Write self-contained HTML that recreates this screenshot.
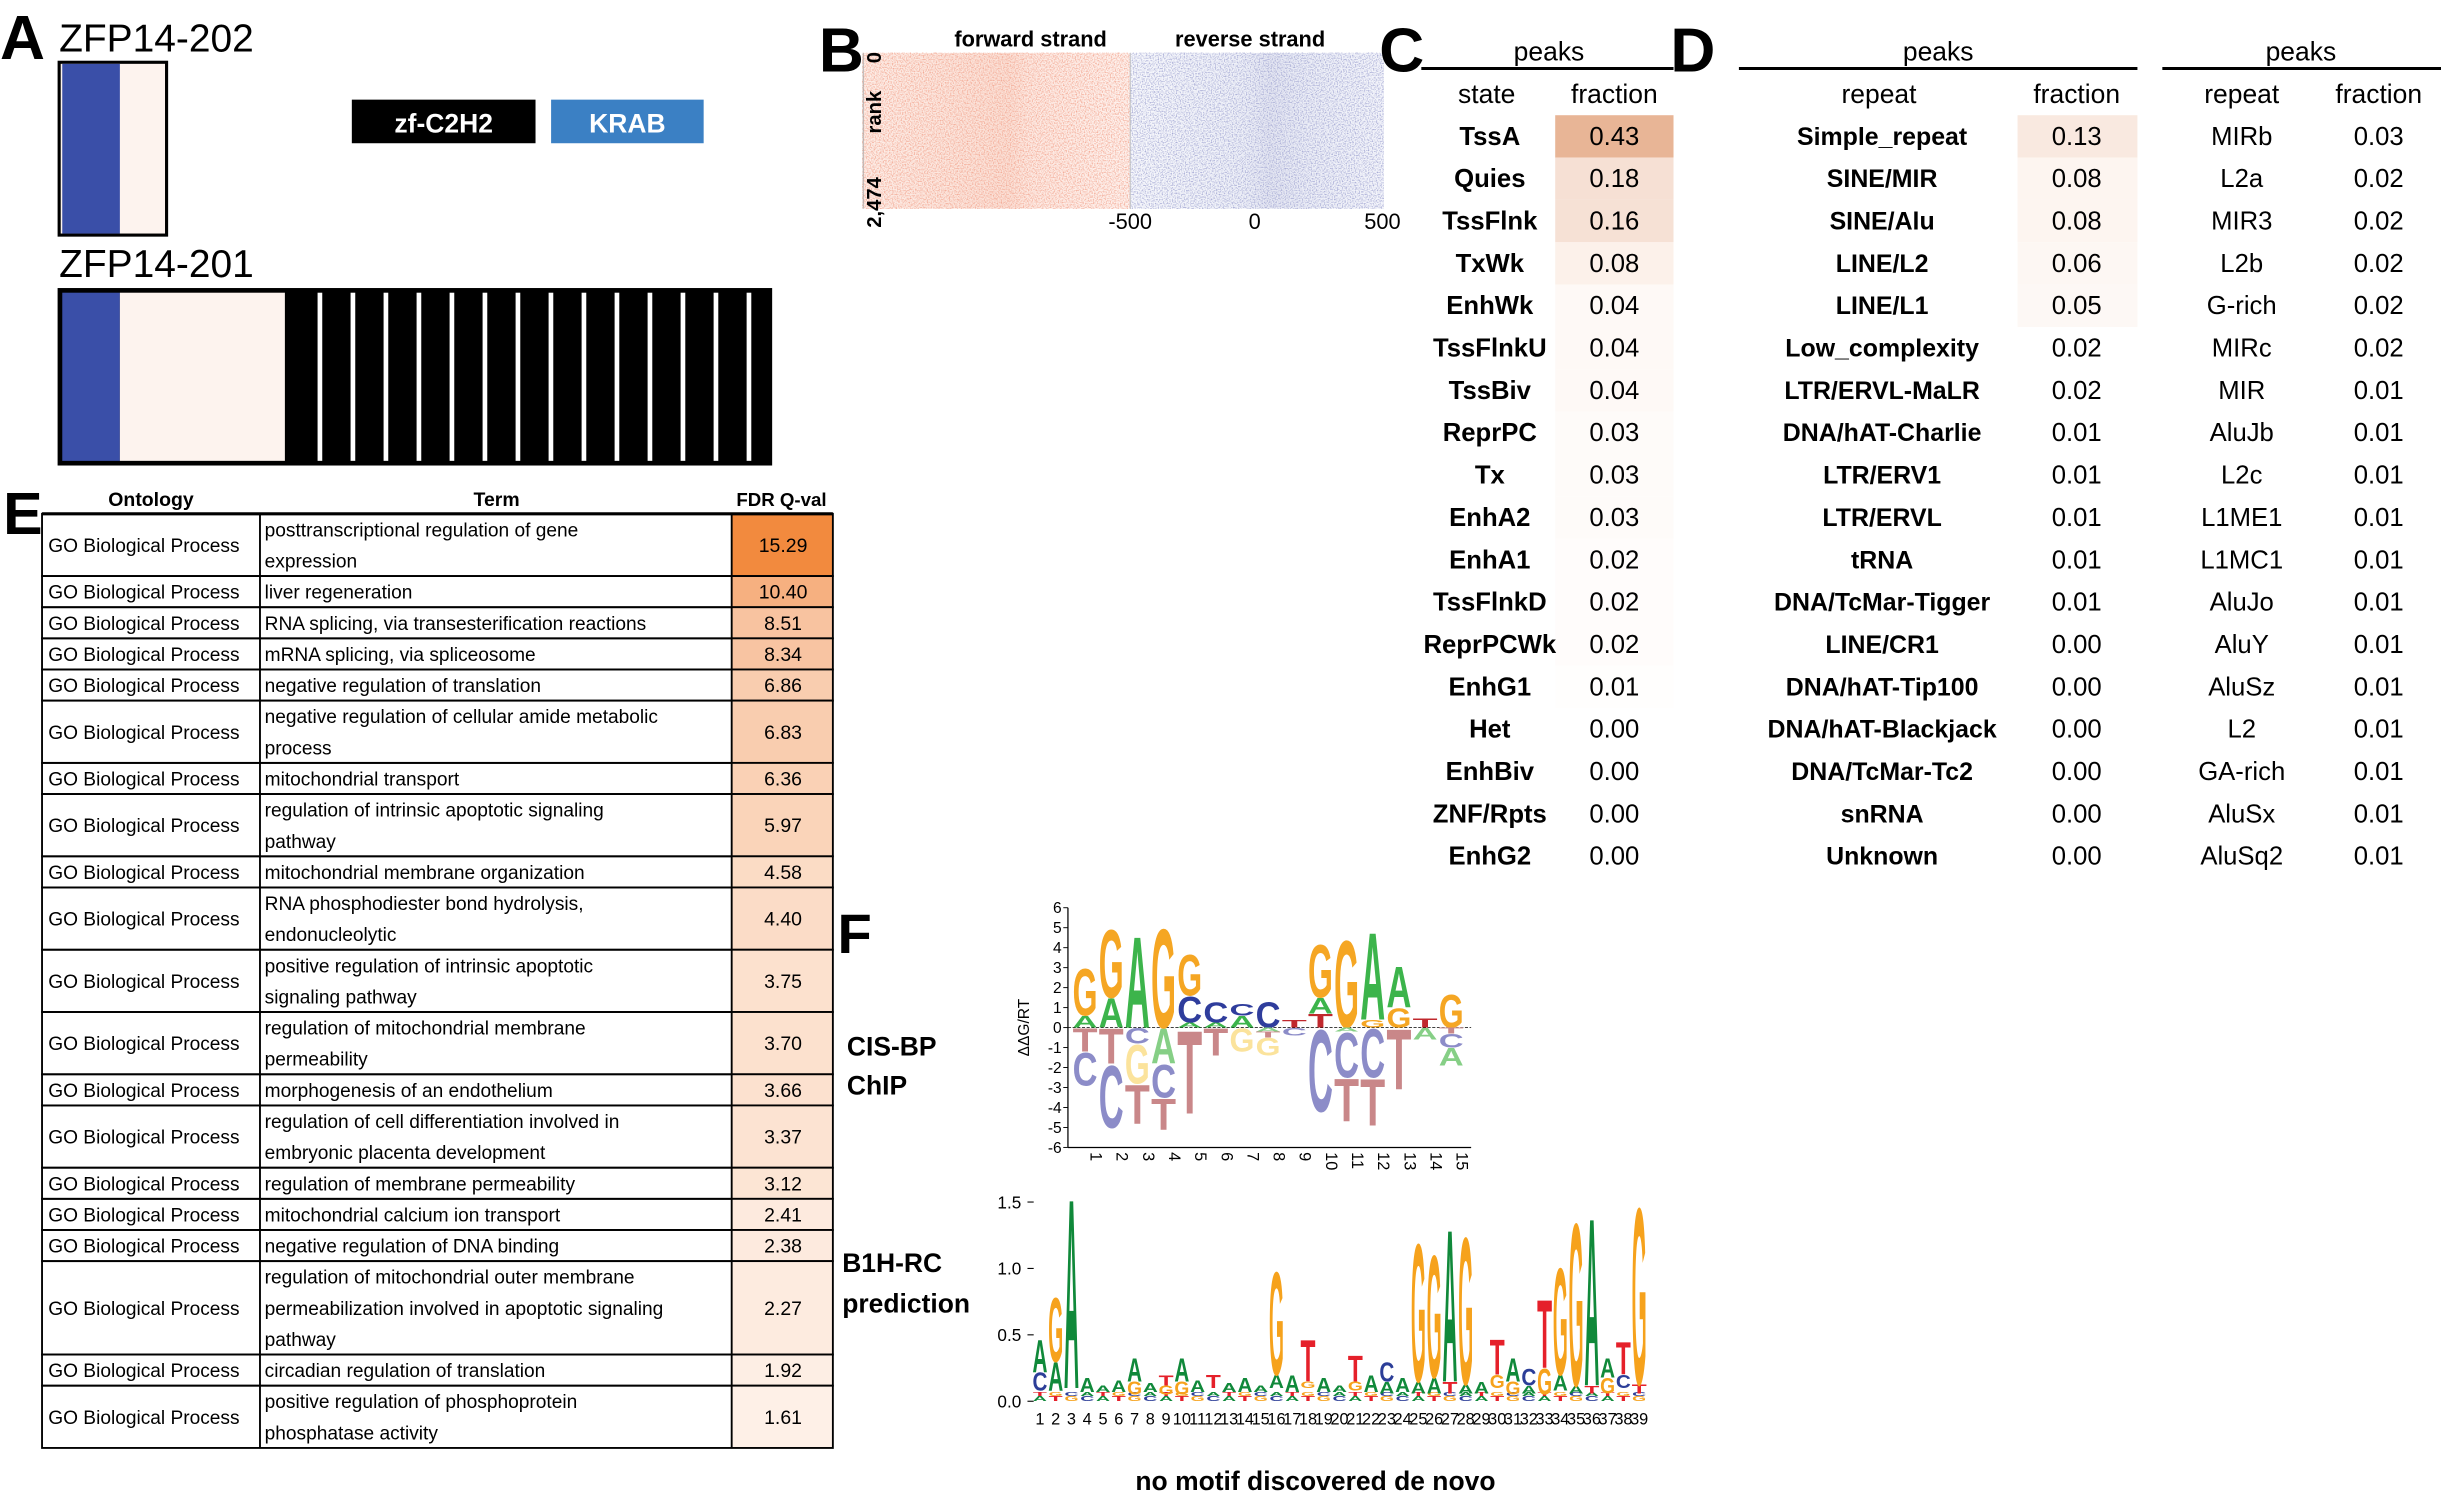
<!DOCTYPE html>
<html><head><meta charset="utf-8"><style>
html,body{margin:0;padding:0;background:#fff}
svg{display:block}
text{font-family:"Liberation Sans",sans-serif}
</style></head><body>
<svg id="s" xmlns="http://www.w3.org/2000/svg" width="2441" height="1504" viewBox="0 0 1568 966" preserveAspectRatio="none">
<defs>
<filter id="nR" x="0" y="0" width="100%" height="100%"><feTurbulence type="fractalNoise" baseFrequency="1.2" numOctaves="1" seed="3" result="t"/><feColorMatrix in="t" type="matrix" values="0 0 0 0 0.88  0 0 0 0 0.35  0 0 0 0 0.25  0 0 0 2.4 -1.0"/></filter>
<filter id="nB" x="0" y="0" width="100%" height="100%"><feTurbulence type="fractalNoise" baseFrequency="1.2" numOctaves="1" seed="7" result="t"/><feColorMatrix in="t" type="matrix" values="0 0 0 0 0.3  0 0 0 0 0.32  0 0 0 0 0.6  0 0 0 2.4 -1.05"/></filter>
<linearGradient id="gR" x1="0" x2="1" y1="0" y2="0"><stop offset="0" stop-color="#fdeee8"/><stop offset="0.55" stop-color="#fbe0d6"/><stop offset="0.62" stop-color="#fde9e2"/><stop offset="1" stop-color="#fef2ee"/></linearGradient>
<linearGradient id="gB" x1="0" x2="1" y1="0" y2="0"><stop offset="0" stop-color="#f7f8fc"/><stop offset="0.45" stop-color="#eef0f8"/><stop offset="0.55" stop-color="#e4e6f2"/><stop offset="0.7" stop-color="#eceef7"/><stop offset="1" stop-color="#f4f5fb"/></linearGradient>
</defs>
<!-- A -->
<text x="0" y="38" font-size="40" font-weight="bold">A</text>
<text x="38" y="33" font-size="25">ZFP14-202</text>
<rect x="38" y="40" width="69" height="111" fill="#fdf3ee" stroke="#000" stroke-width="2"/>
<rect x="40" y="41" width="37" height="109" fill="#3a4fa8"/>
<rect x="226" y="64" width="118" height="28" fill="#000"/>
<text x="285" y="85" font-size="17" font-weight="bold" fill="#fff" text-anchor="middle">zf-C2H2</text>
<rect x="354" y="64" width="98" height="28" fill="#3b80c4"/>
<text x="403" y="85" font-size="17" font-weight="bold" fill="#fff" text-anchor="middle">KRAB</text>
<text x="38" y="178" font-size="25">ZFP14-201</text>
<rect x="38" y="186" width="457" height="112" fill="#000" stroke="#000" stroke-width="2"/>
<rect x="40" y="188" width="37" height="108" fill="#3a4fa8"/>
<rect x="77" y="188" width="106" height="108" fill="#fdf3ee"/>
<g id="stripes" fill="#fff"></g>
<!-- B -->
<text x="526" y="46" font-size="40" font-weight="bold">B</text>
<text x="662" y="30" font-size="14" font-weight="bold" text-anchor="middle">forward strand</text>
<text x="803" y="30" font-size="14" font-weight="bold" text-anchor="middle">reverse strand</text>
<rect x="554" y="34" width="172" height="100" fill="url(#gR)"/>
<rect x="554" y="34" width="172" height="100" filter="url(#nR)"/>
<rect x="726" y="34" width="163" height="100" fill="url(#gB)"/>
<rect x="726" y="34" width="163" height="100" filter="url(#nB)"/>
<line x1="554.5" y1="34" x2="554.5" y2="134" stroke="#aaa" stroke-width="0.6"/>
<line x1="726" y1="34" x2="726" y2="134" stroke="#bbb" stroke-width="0.6"/>
<text transform="translate(566,37) rotate(-90)" font-size="13" font-weight="bold" text-anchor="middle">0</text>
<text transform="translate(566,72) rotate(-90)" font-size="13" font-weight="bold" text-anchor="middle">rank</text>
<text transform="translate(566,130) rotate(-90)" font-size="13" font-weight="bold" text-anchor="middle">2,474</text>
<text x="726" y="147" font-size="14" text-anchor="middle">-500</text>
<text x="806" y="147" font-size="14" text-anchor="middle">0</text>
<text x="888" y="147" font-size="14" text-anchor="middle">500</text>
<!-- C -->
<text x="886" y="46" font-size="40" font-weight="bold">C</text>
<text x="1073" y="46" font-size="40" font-weight="bold">D</text>
<g id="tables"></g>
<!-- E -->
<text x="2" y="343" font-size="38" font-weight="bold">E</text>
<g id="etable"></g>
<!-- F -->
<text x="538" y="612" font-size="36" font-weight="bold">F</text>
<text x="544" y="678" font-size="17" font-weight="bold">CIS-BP</text>
<text x="544" y="703" font-size="17" font-weight="bold">ChIP</text>
<text x="541" y="817" font-size="17" font-weight="bold">B1H-RC</text>
<text x="541" y="843" font-size="17" font-weight="bold">prediction</text>
<text x="845" y="957" font-size="17" font-weight="bold" text-anchor="middle">no motif discovered de novo</text>
<g id="logo1"></g>
<g id="logo2"></g>
</svg>
<script>
var NS="http://www.w3.org/2000/svg";
function el(parent,tag,attrs,txt){var e=document.createElementNS(NS,tag);for(var k in attrs)e.setAttribute(k,attrs[k]);if(txt!=null)e.textContent=txt;parent.appendChild(e);return e;}
var st=document.getElementById('stripes');
for(var i=0;i<14;i++){el(st,'rect',{x:204+i*21.2,y:188,width:3,height:108});}
var T=document.getElementById('tables');
function hdr(cx,x1,x2){el(T,'text',{x:cx,y:39,'font-size':17,'text-anchor':'middle'},'peaks');el(T,'line',{x1:x1,x2:x2,y1:44,y2:44,stroke:'#000','stroke-width':2});}
hdr(995,913,1075);hdr(1245,1117,1373);hdr(1478,1389,1568);
function colh(cx,t){el(T,'text',{x:cx,y:66,'font-size':17,'text-anchor':'middle'},t);}
colh(955,'state');colh(1037,'fraction');colh(1207,'repeat');colh(1334,'fraction');colh(1440,'repeat');colh(1528,'fraction');
var C=[['TssA','0.43','#e8b596'],['Quies','0.18','#f6e0d4'],['TssFlnk','0.16','#f6e1d5'],['TxWk','0.08','#fcf1ea'],['EnhWk','0.04','#fef9f6'],['TssFlnkU','0.04','#fef9f6'],['TssBiv','0.04','#fef9f6'],['ReprPC','0.03','#fefbf9'],['Tx','0.03','#fefbf9'],['EnhA2','0.03','#fefbf9'],['EnhA1','0.02','#fffcfb'],['TssFlnkD','0.02','#fffcfb'],['ReprPCWk','0.02','#fffcfb'],['EnhG1','0.01','#fffefd'],['Het','0.00','#fff'],['EnhBiv','0.00','#fff'],['ZNF/Rpts','0.00','#fff'],['EnhG2','0.00','#fff']];
var D=[['Simple_repeat','0.13','#f9e9e0'],['SINE/MIR','0.08','#fdf5f0'],['SINE/Alu','0.08','#fdf5f0'],['LINE/L2','0.06','#fdf7f3'],['LINE/L1','0.05','#fdf8f5'],['Low_complexity','0.02','#fff'],['LTR/ERVL-MaLR','0.02','#fff'],['DNA/hAT-Charlie','0.01','#fff'],['LTR/ERV1','0.01','#fff'],['LTR/ERVL','0.01','#fff'],['tRNA','0.01','#fff'],['DNA/TcMar-Tigger','0.01','#fff'],['LINE/CR1','0.00','#fff'],['DNA/hAT-Tip100','0.00','#fff'],['DNA/hAT-Blackjack','0.00','#fff'],['DNA/TcMar-Tc2','0.00','#fff'],['snRNA','0.00','#fff'],['Unknown','0.00','#fff']];
var D2=[['MIRb','0.03'],['L2a','0.02'],['MIR3','0.02'],['L2b','0.02'],['G-rich','0.02'],['MIRc','0.02'],['MIR','0.01'],['AluJb','0.01'],['L2c','0.01'],['L1ME1','0.01'],['L1MC1','0.01'],['AluJo','0.01'],['AluY','0.01'],['AluSz','0.01'],['L2','0.01'],['GA-rich','0.01'],['AluSx','0.01'],['AluSq2','0.01']];
for(var i=0;i<18;i++){var y=74+i*27.2, by=y+19;
 el(T,'rect',{x:999,y:y,width:76,height:27.2,fill:C[i][2]});
 el(T,'text',{x:957,y:by,'font-size':16.5,'font-weight':'bold','text-anchor':'middle'},C[i][0]);
 el(T,'text',{x:1037,y:by,'font-size':16.5,'text-anchor':'middle'},C[i][1]);
 el(T,'rect',{x:1296,y:y,width:77,height:27.2,fill:D[i][2]});
 el(T,'text',{x:1209,y:by,'font-size':16,'font-weight':'bold','text-anchor':'middle'},D[i][0]);
 el(T,'text',{x:1334,y:by,'font-size':16.5,'text-anchor':'middle'},D[i][1]);
 el(T,'text',{x:1440,y:by,'font-size':16.5,'text-anchor':'middle'},D2[i][0]);
 el(T,'text',{x:1528,y:by,'font-size':16.5,'text-anchor':'middle'},D2[i][1]);
}
var E=document.getElementById('etable');
el(E,'text',{x:97,y:325,'font-size':12.5,'font-weight':'bold','text-anchor':'middle'},'Ontology');
el(E,'text',{x:319,y:325,'font-size':12.5,'font-weight':'bold','text-anchor':'middle'},'Term');
el(E,'text',{x:502,y:325,'font-size':12,'font-weight':'bold','text-anchor':'middle'},'FDR Q-val');
var R=[[['posttranscriptional regulation of gene','expression'],'15.29','#f28a3e'],[['liver regeneration'],'10.40','#f6b080'],[['RNA splicing, via transesterification reactions'],'8.51','#f8c3a0'],[['mRNA splicing, via spliceosome'],'8.34','#f8c4a2'],[['negative regulation of translation'],'6.86','#f9cdaf'],[['negative regulation of cellular amide metabolic','process'],'6.83','#f9cdaf'],[['mitochondrial transport'],'6.36','#fad1b5'],[['regulation of intrinsic apoptotic signaling','pathway'],'5.97','#fad4b9'],[['mitochondrial membrane organization'],'4.58','#fbdcc5'],[['RNA phosphodiester bond hydrolysis,','endonucleolytic'],'4.40','#fbdcc7'],[['positive regulation of intrinsic apoptotic','signaling pathway'],'3.75','#fce1ce'],[['regulation of mitochondrial membrane','permeability'],'3.70','#fce1ce'],[['morphogenesis of an endothelium'],'3.66','#fce1cf'],[['regulation of cell differentiation involved in','embryonic placenta development'],'3.37','#fce3d2'],[['regulation of membrane permeability'],'3.12','#fce5d4'],[['mitochondrial calcium ion transport'],'2.41','#fdeade'],[['negative regulation of DNA binding'],'2.38','#fdeade'],[['regulation of mitochondrial outer membrane','permeabilization involved in apoptotic signaling','pathway'],'2.27','#fdebdf'],[['circadian regulation of translation'],'1.92','#fdeee4'],[['positive regulation of phosphoprotein','phosphatase activity'],'1.61','#fef0e7']];
var y=330;
for(var i=0;i<R.length;i++){var n=R[i][0].length,h=n*20,my=y+h/2+4.5;
 el(E,'rect',{x:470,y:y,width:65,height:h,fill:R[i][2]});
 el(E,'rect',{x:27,y:y,width:508,height:h,fill:'none',stroke:'#000','stroke-width':1.2});
 el(E,'line',{x1:167,x2:167,y1:y,y2:y+h,stroke:'#000','stroke-width':1.2});
 el(E,'line',{x1:470,x2:470,y1:y,y2:y+h,stroke:'#000','stroke-width':1.2});
 el(E,'text',{x:31,y:my,'font-size':12.3},'GO Biological Process');
 for(var j=0;j<n;j++)el(E,'text',{x:170,y:y+14.5+j*20,'font-size':12.3},R[i][0][j]);
 el(E,'text',{x:503,y:my,'font-size':12.5,'text-anchor':'middle'},R[i][1]);
 y+=h;}
el(E,'line',{x1:27,x2:535,y1:330,y2:330,stroke:'#000','stroke-width':2});
function letter(g,ch,cx,yTop,yBot,w,col,op){var h=yBot-yTop;if(h<0.6)return;
 var gw=(ch=='T')?61:72;
 var t=el(g,'text',{transform:'translate('+(cx-w/2)+','+yBot+') scale('+(w/gw)+','+(h/72)+')','font-size':100,'font-weight':'bold',fill:col,'fill-opacity':op||1},ch);
 t.setAttribute('textLength',gw);t.setAttribute('lengthAdjust','spacingAndGlyphs');}
var L1=document.getElementById('logo1');
var c1={A:'#3cb44b',C:'#2f3d9c',G:'#f5a623',T:'#c0282d'},c1n={A:'#86cf86',C:'#8c8cc8',G:'#fbe39c',T:'#c98789'};
var z=660,u=12.83;
el(L1,'line',{x1:686,x2:686,y1:583,y2:737,stroke:'#000','stroke-width':0.8});
el(L1,'line',{x1:686,x2:945,y1:737,y2:737,stroke:'#000','stroke-width':0.8});
el(L1,'line',{x1:686,x2:945,y1:z,y2:z,stroke:'#000','stroke-width':0.5,'stroke-dasharray':'2,1'});
for(var v=-6;v<=6;v++){var yy=z-v*u;el(L1,'line',{x1:683,x2:686,y1:yy,y2:yy,stroke:'#000','stroke-width':0.6});el(L1,'text',{x:682,y:yy+3.5,'font-size':10,'text-anchor':'end'},v);}
el(L1,'text',{transform:'translate(661,660) rotate(-90)','font-size':10,'text-anchor':'middle'},'ΔΔG/RT');
var P1=[[['A',0,.6],['G',.6,3]],[['A',0,1.5],['G',1.5,5]],[['A',0,4.7]],[['G',0,5.1]],[['A',0,.25],['C',.25,1.6],['G',1.6,3.7]],[['A',0,.25],['C',.25,1.3]],[['A',0,.6],['C',.6,1.2]],[['C',0,1.3]],[['T',0,.4]],[['T',0,.7],['A',.7,1.5],['G',1.5,4.2]],[['G',0,4.5]],[['G',0,.4],['A',.4,4.9]],[['G',0,1],['A',1,3.1]],[['T',0,.45]],[['G',0,1.7]]];
var N1=[[['T',0,1.2],['C',1.2,2.9]],[['T',0,1.8],['C',1.8,5]],[['C',0,.8],['G',.8,2.8],['T',2.8,4.8]],[['A',0,1.8],['C',1.8,3.5],['T',3.5,5.1]],[['T',0,4.3]],[['T',0,1.4]],[['G',0,1.2]],[['A',0,.2],['T',.2,.5],['G',.5,1.4]],[['C',0,.4]],[['C',0,4.2]],[['A',0,.2],['C',.2,2.5],['T',2.5,4.7]],[['C',0,2.5],['T',2.5,4.9]],[['T',0,3.1]],[['A',0,.6]],[['T',0,.3],['C',.3,1],['A',1,1.9]]];
for(var i=0;i<15;i++){var cx=697+i*16.8;
 P1[i].forEach(function(p){letter(L1,p[0],cx,z-p[2]*u,z-p[1]*u,16,c1[p[0]]);});
 N1[i].forEach(function(p){letter(L1,p[0],cx,z+p[1]*u,z+p[2]*u,16,c1n[p[0]]);});
 el(L1,'text',{transform:'translate('+(cx+3.5)+',740) rotate(90)','font-size':10.5},i+1);}
var L2=document.getElementById('logo2');
var c2={A:'#10893a',C:'#2c3e98',G:'#f6a21c',T:'#e5202a'};
var z2=900,u2=85.3;
[[0,'0.0'],[0.5,'0.5'],[1,'1.0'],[1.5,'1.5']].forEach(function(t){var yy=z2-t[0]*u2;el(L2,'text',{x:656,y:yy+4,'font-size':11,'text-anchor':'end'},t[1]);el(L2,'line',{x1:660,x2:664,y1:yy,y2:yy,stroke:'#000','stroke-width':0.7});});
var big={1:[['C',.08,.22],['A',.22,.47]],2:[['A',.08,.3],['G',.3,.8]],3:[['A',.1,1.57]],7:[['G',.05,.15],['A',.15,.33]],9:[['G',.05,.12],['T',.12,.2]],10:[['G',.05,.15],['A',.15,.33]],12:[['T',.1,.2]],16:[['A',.1,.2],['G',.2,1.0]],18:[['G',.1,.15],['T',.15,.47]],21:[['G',.08,.15],['T',.15,.35]],23:[['A',.06,.15],['C',.15,.3]],25:[['A',.06,.15],['G',.15,1.22]],26:[['A',.06,.18],['G',.18,1.13]],27:[['T',.06,.15],['A',.15,1.33]],28:[['A',.06,.13],['G',.13,1.27]],29:[['A',.06,.15]],30:[['G',.1,.2],['T',.2,.47]],31:[['G',.05,.15],['A',.15,.33]],32:[['A',.06,.12],['C',.12,.25]],33:[['G',.05,.25],['T',.25,.78]],34:[['A',.08,.2],['G',.2,1.03]],35:[['A',.06,.12],['G',.12,1.38]],36:[['T',.06,.12],['A',.12,1.42]],37:[['G',.06,.18],['A',.18,.33]],38:[['C',.1,.2],['T',.2,.45]],39:[['T',.06,.13],['G',.13,1.5]]};
var sm=['C','A','T','G'];
for(var i=1;i<=39;i++){var cx=668+(i-1)*10.13;
 letter(L2,sm[i%4],cx,z2-0.04*u2,z2,9,c2[sm[i%4]]);
 letter(L2,sm[(i+1)%4],cx,z2-0.07*u2,z2-0.04*u2,9,c2[sm[(i+1)%4]]);
 var s=big[i]||[['A',.07,.12+((i*7)%5)*0.02]];
 s.forEach(function(p){letter(L2,p[0],cx,z2-p[2]*u2,z2-p[1]*u2,9.6,c2[p[0]]);});
 el(L2,'text',{x:cx,y:915,'font-size':10.5,'text-anchor':'middle'},i);}
</script>
</body></html>
